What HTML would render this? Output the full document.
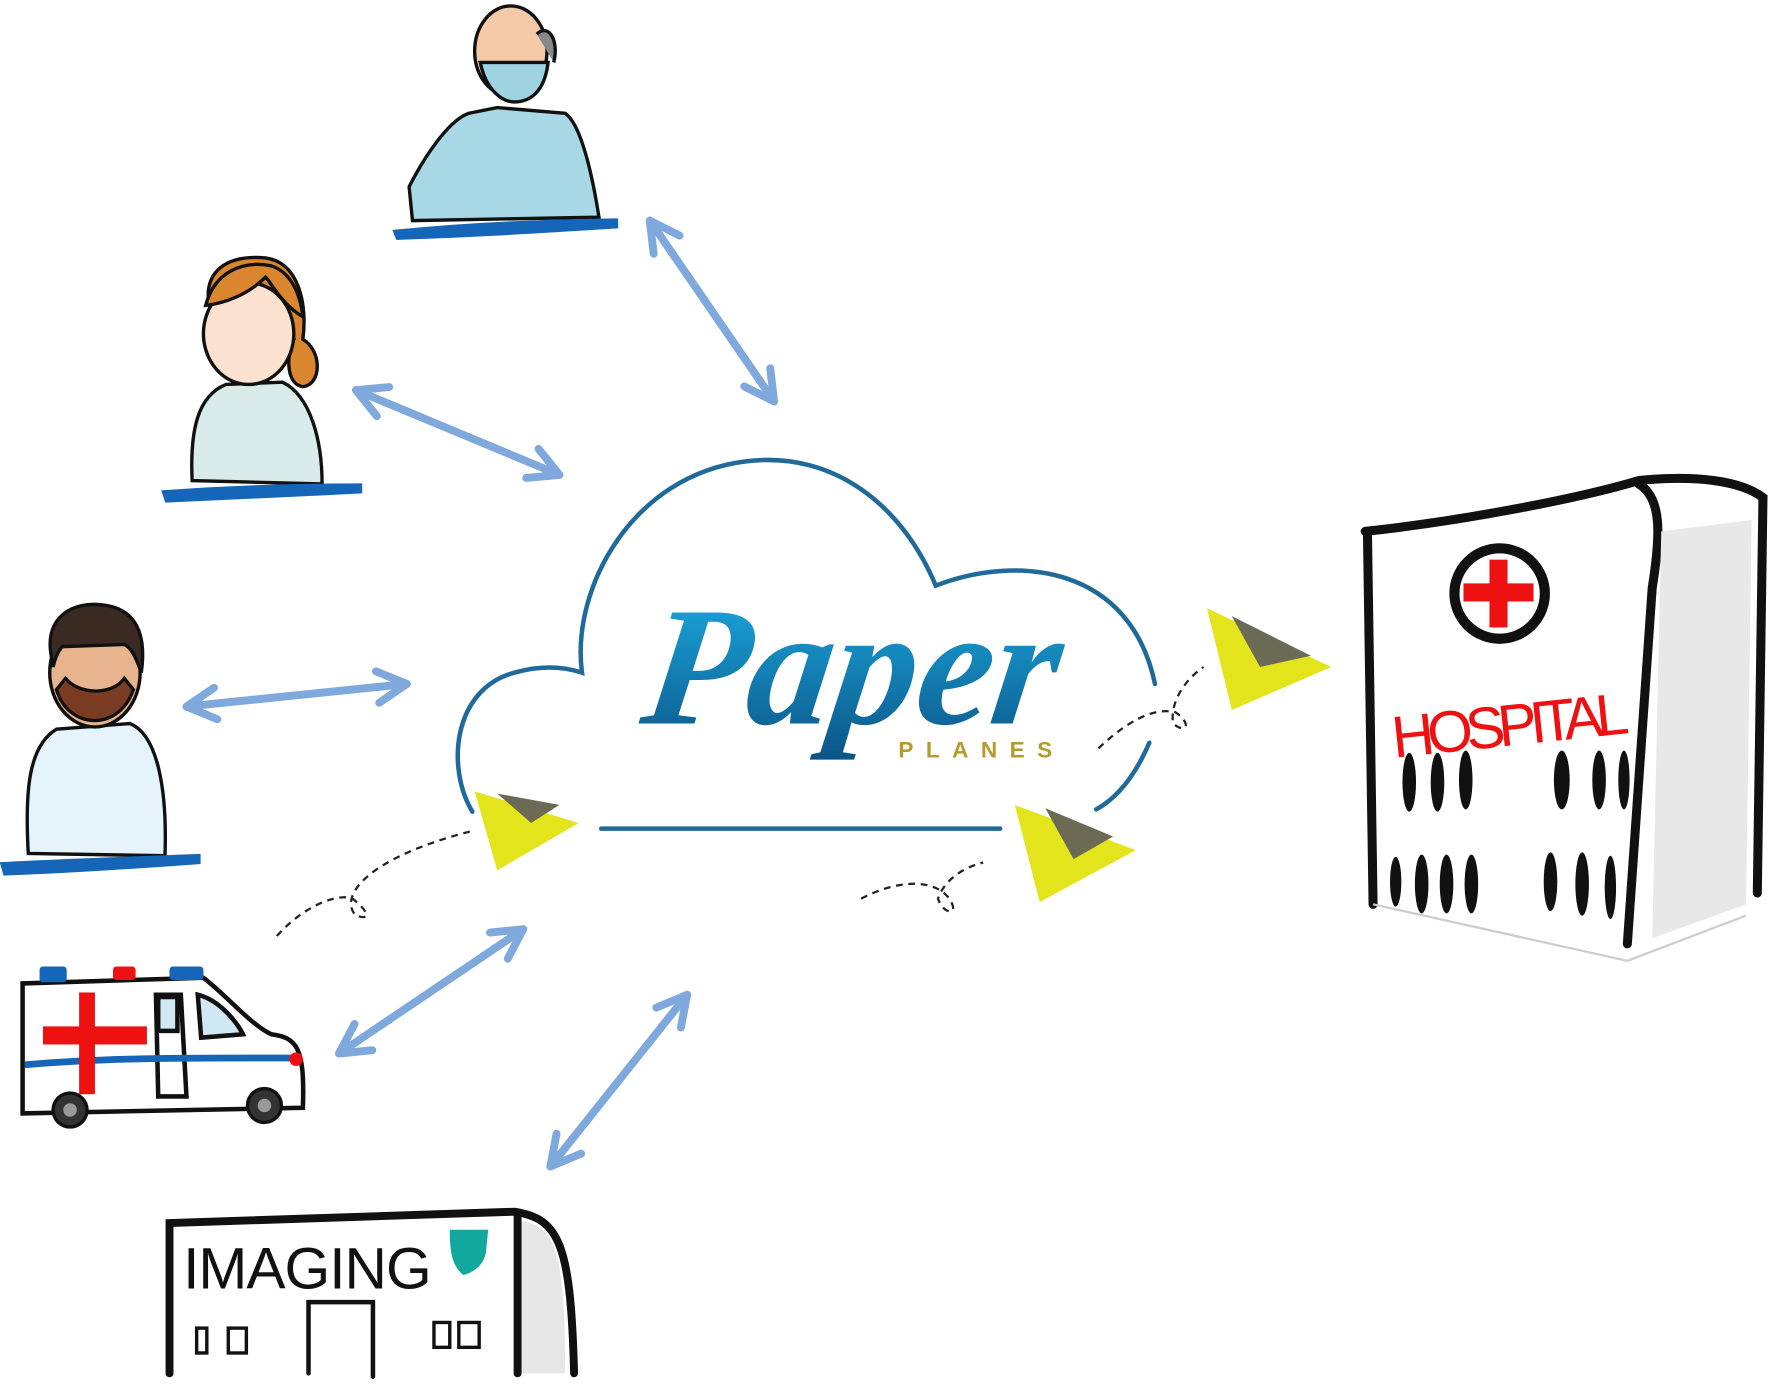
<!DOCTYPE html>
<html><head><meta charset="utf-8"><style>
html,body{margin:0;padding:0;background:#fff;}
svg{display:block;}
</style></head><body>
<svg width="1772" height="1386" viewBox="0 0 1568 1226" xmlns="http://www.w3.org/2000/svg">
<defs>
<linearGradient id="pg" x1="0" y1="0" x2="0" y2="1">
<stop offset="0" stop-color="#1db0e6"/><stop offset="1" stop-color="#0b5486"/></linearGradient>
<g id="ah"><path d="M0 0 L-26 -14 M0 0 L-26 14" stroke="#7fa9dc" stroke-width="7" fill="none" stroke-linecap="round"/></g>
</defs>

<!-- cloud -->
<g fill="none" stroke="#1f6a9a" stroke-width="4" stroke-linecap="round">
<path d="M418 718 C395 680 400 610 455 595 C480 588 500 590 515 595 C505 520 560 420 660 408 C740 398 800 450 828 518 C900 490 1000 500 1022 605"/>
<path d="M1017 657 C1005 685 990 705 970 716"/>
<line x1="532" y1="733" x2="885" y2="733"/>
</g>
<text x="575" y="640" font-family="Liberation Serif, serif" font-style="italic" font-weight="bold" font-size="150" fill="url(#pg)" transform="skewX(-8) translate(80 0)">Paper</text>
<text x="795" y="670" font-family="Liberation Sans, sans-serif" font-weight="bold" font-size="20" letter-spacing="11" fill="#b79a2a">PLANES</text>

<!-- arrows -->
<g stroke="#7fa9dc" stroke-width="7" stroke-linecap="round" fill="none">
<line x1="575" y1="195" x2="685" y2="355"/>
<line x1="315" y1="345" x2="495" y2="420"/>
<line x1="165" y1="625" x2="360" y2="605"/>
<line x1="300" y1="932" x2="463" y2="822"/>
<line x1="487" y1="1032" x2="608" y2="880"/>
</g>
<use href="#ah" transform="translate(685 355) rotate(55)"/>
<use href="#ah" transform="translate(575 195) rotate(235)"/>
<use href="#ah" transform="translate(495 420) rotate(23)"/>
<use href="#ah" transform="translate(315 345) rotate(203)"/>
<use href="#ah" transform="translate(360 605) rotate(-6)"/>
<use href="#ah" transform="translate(165 625) rotate(174)"/>
<use href="#ah" transform="translate(463 822) rotate(-34)"/>
<use href="#ah" transform="translate(300 932) rotate(146)"/>
<use href="#ah" transform="translate(608 880) rotate(-51)"/>
<use href="#ah" transform="translate(487 1032) rotate(129)"/>

<!-- dashed flight paths -->
<g fill="none" stroke="#222" stroke-width="2" stroke-dasharray="6 5">
<path d="M245 828 C270 800 300 790 312 795 C325 805 330 815 315 810 C300 795 320 760 418 735"/>
<path d="M762 795 C790 780 825 775 840 795 C850 810 835 810 830 795 C835 780 850 768 870 763"/>
<path d="M972 662 C995 640 1020 625 1040 630 C1055 640 1050 650 1038 640 C1035 620 1050 600 1065 590"/>
</g>

<!-- planes -->
<g>
<polygon points="420,700 512,728 440,770" fill="#e4e41c"/>
<polygon points="440,702 495,712 470,728" fill="#6a6a55"/>
<polygon points="898,712 1005,752 920,798" fill="#e4e41c"/>
<polygon points="925,715 985,740 950,760" fill="#6a6a55"/>
<polygon points="1068,538 1178,590 1090,628" fill="#e4e41c"/>
<polygon points="1090,545 1160,580 1115,590" fill="#6a6a55"/>
</g>

<!-- hospital -->
<g stroke="#111" stroke-width="8" fill="none" stroke-linecap="round">
<path d="M1208 470 C1300 460 1400 440 1450 425 C1500 420 1540 425 1560 440 L1555 790"/>
<path d="M1210 470 L1215 800"/>
<path d="M1450 428 C1470 440 1470 470 1462 520 L1440 835"/>
<circle cx="1327" cy="525" r="40" stroke-width="9"/>
</g>
<path d="M1470 470 L1550 460 L1545 800 L1462 830 Z" fill="#e8e8e8"/>
<path d="M1215 800 L1440 850 L1545 810" stroke="#ccc" stroke-width="2" fill="none"/>
<rect x="1318" y="495" width="16" height="60" fill="#e11"/>
<rect x="1295" y="516" width="62" height="16" fill="#e11"/>
<text x="1230" y="660" font-family="Liberation Sans, sans-serif" font-size="52" fill="#e11" transform="rotate(-6 1330 630)" textLength="210">HOSPITAL</text>
<g fill="#111">
<ellipse cx="1247" cy="692" rx="6" ry="26"/><ellipse cx="1272" cy="692" rx="6" ry="26"/><ellipse cx="1297" cy="690" rx="6" ry="26"/>
<ellipse cx="1382" cy="690" rx="7" ry="26"/><ellipse cx="1415" cy="690" rx="6" ry="26"/><ellipse cx="1437" cy="690" rx="5" ry="26"/>
<ellipse cx="1235" cy="780" rx="5" ry="22"/><ellipse cx="1258" cy="782" rx="6" ry="26"/><ellipse cx="1280" cy="782" rx="6" ry="26"/><ellipse cx="1302" cy="782" rx="6" ry="26"/>
<ellipse cx="1372" cy="780" rx="6" ry="26"/><ellipse cx="1400" cy="782" rx="6" ry="28"/><ellipse cx="1425" cy="785" rx="5" ry="28"/>
</g>

<!-- imaging -->
<path d="M460 1080 C490 1085 500 1100 500 1215 L460 1215 Z" fill="#e6e6e6"/>
<g stroke="#111" stroke-width="7" fill="none" stroke-linecap="round">
<path d="M150 1215 L150 1082 L455 1072 C495 1078 505 1100 508 1215"/>
<path d="M458 1075 L458 1215"/>
<path d="M273 1215 L273 1152 L330 1152 L330 1218" stroke-width="4"/>
</g>
<text x="162" y="1140" font-family="Liberation Sans, sans-serif" font-size="52" fill="#111" textLength="220">IMAGING</text>
<path d="M398 1088 L432 1088 L430 1108 C428 1120 418 1126 410 1128 C400 1120 398 1108 398 1088 Z" fill="#13a89e"/>
<g stroke="#111" stroke-width="3" fill="none">
<rect x="174" y="1175" width="9" height="22"/><rect x="202" y="1175" width="16" height="22"/>
<rect x="384" y="1170" width="14" height="22"/><rect x="406" y="1170" width="18" height="22"/>
</g>

<!-- ambulance -->
<g stroke="#111" stroke-width="4" fill="#fff">
<path d="M20 870 L180 865 C200 880 220 905 240 915 C262 918 270 925 268 980 L20 985 Z"/>
<path d="M138 880 L160 880 L165 970 L140 970 Z" fill="none"/>
<path d="M175 880 C195 885 210 905 215 915 L178 918 Z" fill="#cfe8f3"/>
<rect x="140" y="882" width="17" height="30" fill="#cfe8f3"/>
</g>
<rect x="35" y="855" width="24" height="14" rx="3" fill="#1565b8"/><rect x="100" y="855" width="20" height="12" rx="3" fill="#e11"/><rect x="150" y="855" width="30" height="12" rx="3" fill="#1565b8"/>
<path d="M22 942 C100 935 180 936 262 936" stroke="#1565b8" stroke-width="6" fill="none"/>
<rect x="38" y="908" width="92" height="16" fill="#e11"/><rect x="70" y="878" width="14" height="90" fill="#e11"/>
<circle cx="262" cy="937" r="6" fill="#e11"/>
<circle cx="62" cy="982" r="15" fill="#333" stroke="#111" stroke-width="3"/><circle cx="62" cy="982" r="6" fill="#999"/>
<circle cx="234" cy="978" r="15" fill="#333" stroke="#111" stroke-width="3"/><circle cx="234" cy="978" r="6" fill="#999"/>

<!-- person top: bald man -->
<g stroke="#111" stroke-width="3">
<path d="M362 165 C380 130 400 105 415 100 L440 95 L500 100 C515 110 525 160 530 192 L365 195 Z" fill="#a8d8e6"/>
<ellipse cx="452" cy="45" rx="32" ry="40" fill="#f4c9a8"/>
<path d="M425 55 C430 80 445 90 455 90 C470 90 482 80 485 55 Z" fill="#9ed3e2"/>
<path d="M475 30 C485 20 495 35 490 55" fill="#888"/>
</g>
<path d="M350 205 C420 198 480 196 545 195 L545 200 C480 204 420 208 352 210 Z" fill="#1565b8" stroke="#1565b8" stroke-width="4"/>

<!-- woman -->
<g stroke="#111" stroke-width="3">
<path d="M170 425 C168 380 175 350 200 340 L250 338 C275 350 285 390 285 428 Z" fill="#d9ebe9"/>
<path d="M185 270 C180 240 200 225 235 228 C265 232 272 270 268 300 C285 310 285 340 268 342 C255 340 252 320 260 300 Z" fill="#d9862e"/>
<ellipse cx="220" cy="295" rx="40" ry="45" fill="#fbe2d0"/>
<path d="M182 270 C190 240 215 230 240 235 C255 240 265 255 268 280 C250 270 240 250 235 245 C220 260 200 268 182 270 Z" fill="#d9862e"/>
</g>
<path d="M146 436 C200 432 260 430 318 430 L318 434 C260 437 200 440 148 442 Z" fill="#1565b8" stroke="#1565b8" stroke-width="5"/>

<!-- doctor -->
<g stroke="#111" stroke-width="3">
<path d="M25 755 C22 700 25 660 50 645 L115 640 C140 650 148 700 146 757 Z" fill="#e5f3fa"/>
<ellipse cx="84" cy="595" rx="40" ry="48" fill="#e8b48e"/>
<path d="M45 578 C40 545 65 532 90 535 C120 538 130 560 125 595 C120 580 115 572 110 570 L55 572 C50 578 48 585 47 590 Z" fill="#3b2a22"/>
<path d="M50 610 C60 645 105 648 118 610 L110 600 C100 615 70 615 58 600 Z" fill="#7a3d24"/>
</g>
<path d="M3 765 C60 762 120 760 175 758 L175 762 C120 766 60 770 5 772 Z" fill="#1565b8" stroke="#1565b8" stroke-width="5"/>
</svg>
</body></html>
